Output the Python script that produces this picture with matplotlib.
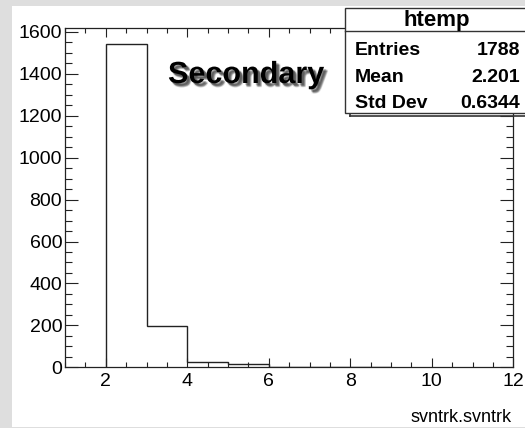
import numpy as np
import matplotlib
matplotlib.use("Agg")
import matplotlib.pyplot as plt
import matplotlib.patheffects as pe
from matplotlib.patches import Rectangle
from matplotlib.lines import Line2D
from matplotlib.ticker import MultipleLocator

plt.rcParams["font.family"] = ["Liberation Sans", "DejaVu Sans"]

# Histogram of svntrk.svntrk: integer-valued bins [2,3), [3,4), ... [8,9)
bin_edges = [2, 3, 4, 5, 6, 7, 8, 9]
bin_counts = [1540, 196, 26, 18, 3, 3, 2]

stats_title = "htemp"
stats_labels = ["Entries", "Mean", "Std Dev"]
stats_values = ["1788", "2.201", "0.6344"]
x_label = "svntrk.svntrk"
annotation = "Secondary"

W, H = 525, 428
fig = plt.figure(figsize=(W / 100, H / 100), dpi=100, facecolor="#dedede")


def fx(px):
    return px / W


def fy(py):
    return 1 - py / H


# white canvas pad
fig.patches.append(Rectangle((fx(12), fy(427)), fx(525 - 12), (427 - 6) / H,
                             transform=fig.transFigure, facecolor="white",
                             edgecolor="none", zorder=-10))

ax = fig.add_axes([fx(65), fy(367.3), fx(513.3 - 65), (367.3 - 27.7) / H])
ax.set_zorder(1)
ax.set_facecolor("white")

ax.stairs(bin_counts, bin_edges, baseline=0, color="#222222", linewidth=1.0)

ax.set_xlim(1, 12)
ax.set_ylim(0, 1620)
ax.xaxis.set_major_locator(MultipleLocator(2))
ax.xaxis.set_minor_locator(MultipleLocator(0.5))
ax.yaxis.set_major_locator(MultipleLocator(200))
ax.yaxis.set_minor_locator(MultipleLocator(50))

ax.tick_params(axis="x", which="both", direction="in", top=True, bottom=True,
               labelsize=14, pad=4, color="#222222")
ax.tick_params(axis="x", which="major", length=6.5, width=0.8)
ax.tick_params(axis="x", which="minor", length=3.4, width=0.8)
ax.tick_params(axis="y", which="both", direction="in", left=True, right=True,
               labelsize=14, pad=2, color="#222222")
ax.tick_params(axis="y", which="major", length=9.4, width=0.8)
ax.tick_params(axis="y", which="minor", length=5.0, width=0.8)
for s in ax.spines.values():
    s.set_color("#222222")
    s.set_linewidth(0.9)

fig.text(fx(512), fy(421.5), x_label, ha="right", va="baseline", fontsize=13)

# title text with a soft drop shadow (several faint offset copies of the glyph path)
shadow = [pe.SimplePatchShadow(offset=(ox, oy), shadow_rgbFace="black", alpha=a)
          for ox, oy, a in [(1.5, -1.5, 0.18), (2.0, -2.0, 0.2), (2.5, -2.5, 0.2),
                            (3.0, -3.0, 0.12), (2.0, -3.0, 0.1), (3.0, -2.0, 0.1)]]
fig.text(fx(168), fy(83), annotation, fontsize=22, fontweight="bold", color="black",
         va="baseline", ha="left", zorder=6,
         path_effects=shadow + [pe.Normal()])

# statistics box
bx0, bx1, by0, by1 = 345, 527, 8, 113
fig.add_artist(Line2D([fx(350), fx(527)], [fy(116), fy(116)], color="#333333",
                      linewidth=1.2, transform=fig.transFigure, zorder=5))
fig.add_artist(Line2D([fx(350), fx(350)], [fy(113), fy(116)], color="#333333",
                      linewidth=1.2, transform=fig.transFigure, zorder=5))
fig.add_artist(Rectangle((fx(bx0), fy(by1)), fx(bx1 - bx0), (by1 - by0) / H,
                         transform=fig.transFigure, facecolor="white",
                         edgecolor="#333333", linewidth=1.0, zorder=6))
fig.add_artist(Line2D([fx(bx0), fx(bx1)], [fy(30.5), fy(30.5)], color="#333333",
                      linewidth=1.0, transform=fig.transFigure, zorder=7))
fig.text(fx(437), fy(26), stats_title, ha="center", va="baseline", fontsize=16,
         fontweight="bold", zorder=8)
for i, (lab, val) in enumerate(zip(stats_labels, stats_values)):
    yy = fy(55 + i * 26.5)
    fig.text(fx(355), yy, lab, ha="left", va="baseline", fontsize=14,
             fontweight="bold", zorder=8)
    fig.text(fx(520), yy, val, ha="right", va="baseline", fontsize=14,
             fontweight="bold", zorder=8)

fig.savefig("out.png", dpi=100, facecolor=fig.get_facecolor())
